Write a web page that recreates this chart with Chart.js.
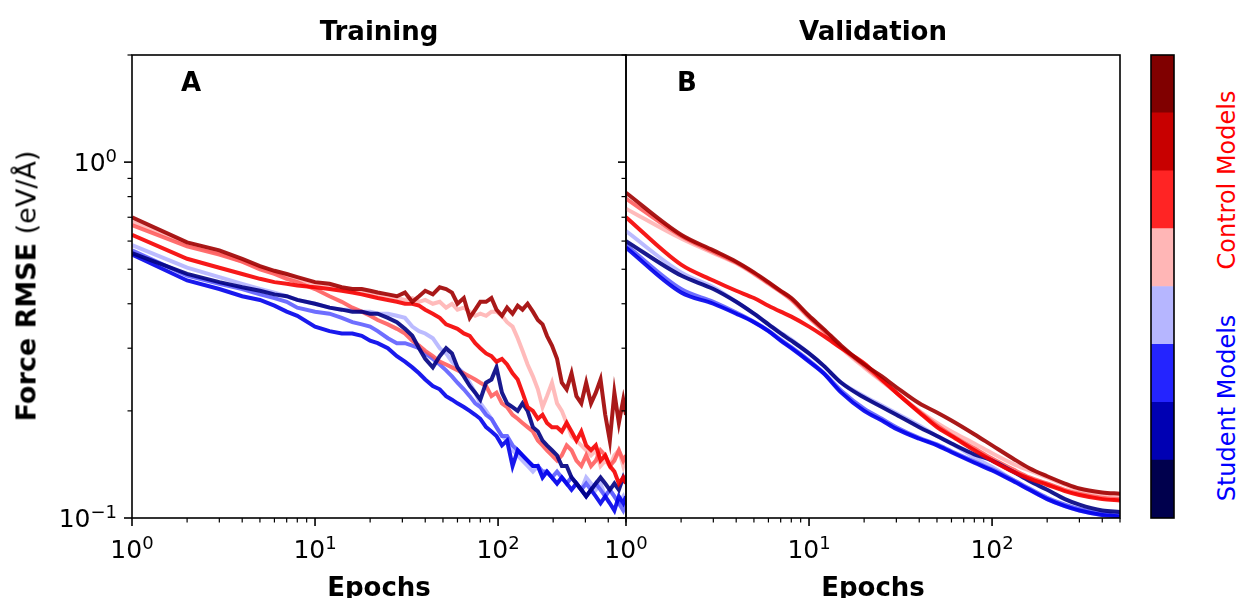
<!DOCTYPE html>
<html>
<head>
<meta charset="utf-8">
<script src="https://cdn.jsdelivr.net/npm/chart.js@4.4.1/dist/chart.umd.min.js"></script>
<style>
  html, body { margin:0; padding:0; background:#fff; }
  #wrap { position:relative; width:1236px; height:598px; overflow:hidden; font-family:"DejaVu Sans", sans-serif; }
  .box { position:absolute; top:0; height:598px; }
  .box canvas { display:block; }
  .txt { position:absolute; line-height:1; white-space:nowrap; color:#000; }
  .b { font-weight:bold; font-size:26px; }
  .rot { font-size:24px; transform:translate(-50%,-50%) rotate(-90deg); }
</style>
</head>
<body>
<div id="wrap">
  <div class="box" style="left:0;width:640px"><canvas id="trainChart" width="640" height="598"></canvas></div>
  <div class="box" style="left:586px;width:550px"><canvas id="validChart" width="550" height="598"></canvas></div>
  <div class="box" style="left:1140px;width:50px"><canvas id="cbarChart" width="50" height="598"></canvas></div>

  <div class="txt b" style="left:379px;top:18px;transform:translateX(-50%)">Training</div>
  <div class="txt b" style="left:873px;top:18px;transform:translateX(-50%)">Validation</div>
  <div class="txt b" style="left:181px;top:69px">A</div>
  <div class="txt b" style="left:677px;top:69px">B</div>
  <div class="txt b" style="left:379px;top:574px;transform:translateX(-50%)">Epochs</div>
  <div class="txt b" style="left:873px;top:574px;transform:translateX(-50%)">Epochs</div>
  <div class="txt rot" style="left:26px;top:286px;font-size:27px"><b>Force RMSE</b> (eV/Å)</div>
  <div class="txt rot" style="left:1227px;top:180px;color:#ff0000">Control Models</div>
  <div class="txt rot" style="left:1227px;top:408px;color:#0000ff">Student Models</div>
</div>
<script>
// epochs
const trainEpochs = [1,2,3,4,5,6,7,8,10,12,14,16,18,20,22,25,28,31,34,37,40,44,48,52,56,60,65,70,75,80,
  86,92,98,105,112,120,128,136,145,155,165,175,185,197,210,223,237,252,268,285,303,322,342,363,385,408,432,457,483,500];
const validEpochs = [1,2,3,4,5,6,7,8,10,12,15,20,25,30,40,50,60,80,100,130,160,200,250,300,400,500];

// training force RMSE, control models
const trainDarkRed = [0.70,0.595,0.565,0.535,0.51,0.495,0.485,0.475,0.46,0.455,
  0.445,0.44,0.44,0.435,0.43,0.425,0.42,0.43,0.405,0.42,
  0.435,0.425,0.445,0.44,0.43,0.40,0.415,0.365,0.385,0.405,
  0.405,0.415,0.385,0.37,0.39,0.375,0.395,0.385,0.40,0.38,
  0.36,0.35,0.325,0.305,0.28,0.24,0.23,0.255,0.22,0.21,
  0.24,0.21,0.225,0.245,0.195,0.165,0.225,0.185,0.215,0.195];
const trainPink = [0.68,0.59,0.555,0.525,0.505,0.49,0.48,0.47,0.455,0.445,
  0.44,0.435,0.43,0.425,0.42,0.42,0.415,0.41,0.415,0.405,
  0.41,0.40,0.405,0.39,0.40,0.385,0.39,0.38,0.37,0.375,
  0.37,0.38,0.38,0.37,0.355,0.345,0.32,0.295,0.27,0.25,
  0.23,0.205,0.22,0.24,0.21,0.2,0.185,0.17,0.165,0.16,
  0.155,0.15,0.155,0.14,0.145,0.14,0.15,0.155,0.14,0.15];
const trainRed = [0.625,0.535,0.505,0.485,0.47,0.46,0.455,0.45,0.445,0.44,
  0.435,0.43,0.425,0.42,0.415,0.41,0.405,0.40,0.40,0.395,
  0.385,0.375,0.365,0.35,0.345,0.34,0.33,0.325,0.31,0.30,
  0.29,0.285,0.275,0.28,0.27,0.255,0.245,0.225,0.205,0.2,
  0.19,0.195,0.185,0.18,0.18,0.175,0.185,0.175,0.165,0.175,
  0.16,0.155,0.16,0.145,0.15,0.14,0.135,0.125,0.13,0.125];
const trainSalmon = [0.665,0.58,0.55,0.525,0.50,0.485,0.47,0.46,0.44,0.42,
  0.405,0.39,0.38,0.37,0.36,0.35,0.34,0.33,0.315,0.305,
  0.295,0.285,0.275,0.27,0.265,0.26,0.255,0.25,0.245,0.24,
  0.235,0.22,0.225,0.21,0.205,0.195,0.19,0.185,0.18,0.175,
  0.165,0.16,0.155,0.15,0.145,0.15,0.16,0.155,0.145,0.14,
  0.15,0.14,0.145,0.155,0.15,0.14,0.145,0.155,0.145,0.15];

// training force RMSE, student models
const trainNavy = [0.555,0.485,0.46,0.445,0.435,0.425,0.42,0.41,0.40,0.39,
  0.385,0.38,0.38,0.375,0.375,0.365,0.355,0.34,0.325,0.30,
  0.28,0.265,0.285,0.30,0.29,0.265,0.25,0.235,0.225,0.215,
  0.24,0.245,0.265,0.225,0.21,0.205,0.20,0.21,0.20,0.18,
  0.175,0.165,0.16,0.155,0.15,0.14,0.14,0.13,0.125,0.12,
  0.115,0.12,0.125,0.13,0.125,0.12,0.125,0.12,0.13,0.125];
const trainBlue = [0.55,0.465,0.44,0.42,0.41,0.395,0.38,0.37,0.345,0.335,
  0.33,0.33,0.325,0.315,0.31,0.30,0.285,0.275,0.265,0.255,
  0.245,0.235,0.23,0.22,0.215,0.21,0.205,0.20,0.195,0.19,
  0.18,0.175,0.17,0.16,0.165,0.14,0.155,0.15,0.145,0.14,
  0.14,0.13,0.135,0.13,0.125,0.13,0.125,0.12,0.125,0.12,
  0.115,0.12,0.115,0.11,0.115,0.11,0.105,0.115,0.11,0.115];
const trainMidBlue = [0.565,0.48,0.455,0.44,0.425,0.415,0.405,0.39,0.38,0.375,
  0.365,0.355,0.35,0.345,0.335,0.32,0.31,0.31,0.305,0.30,
  0.29,0.28,0.27,0.26,0.25,0.24,0.23,0.22,0.21,0.205,
  0.195,0.19,0.18,0.17,0.17,0.16,0.155,0.15,0.145,0.14,
  0.14,0.135,0.135,0.13,0.135,0.13,0.125,0.13,0.125,0.12,
  0.125,0.12,0.125,0.12,0.115,0.12,0.115,0.11,0.105,0.11];
const trainLightBlue = [0.585,0.505,0.475,0.455,0.44,0.43,0.42,0.41,0.40,0.39,
  0.385,0.385,0.38,0.38,0.375,0.375,0.37,0.365,0.345,0.335,
  0.33,0.32,0.30,0.29,0.275,0.265,0.255,0.24,0.225,0.21,
  0.20,0.19,0.18,0.17,0.165,0.155,0.15,0.145,0.14,0.135,
  0.14,0.13,0.135,0.13,0.125,0.13,0.125,0.13,0.125,0.12,
  0.13,0.125,0.12,0.125,0.115,0.12,0.115,0.11,0.115,0.11];

// validation force RMSE
const validDarkRed = [0.82,0.625,0.565,0.525,0.49,0.46,0.435,0.415,0.37,0.34,0.305,0.27,0.25,0.233,0.21,0.198,0.188,0.172,0.16,0.147,0.138,0.131,0.125,0.121,0.118,0.117];
const validPink = [0.74,0.61,0.555,0.52,0.485,0.455,0.432,0.41,0.365,0.335,0.3,0.265,0.242,0.225,0.20,0.185,0.175,0.162,0.152,0.142,0.136,0.13,0.124,0.12,0.117,0.116];
const validRed = [0.70,0.515,0.465,0.435,0.415,0.395,0.38,0.368,0.345,0.325,0.30,0.272,0.245,0.225,0.198,0.18,0.17,0.155,0.145,0.135,0.129,0.124,0.119,0.116,0.113,0.112];
const validSalmon = [0.79,0.62,0.56,0.522,0.487,0.457,0.433,0.412,0.367,0.337,0.302,0.268,0.244,0.225,0.199,0.182,0.171,0.157,0.147,0.137,0.13,0.125,0.12,0.117,0.114,0.113];
const validNavy = [0.60,0.48,0.44,0.405,0.375,0.35,0.33,0.315,0.29,0.268,0.24,0.218,0.205,0.195,0.18,0.17,0.162,0.151,0.145,0.135,0.127,0.12,0.113,0.109,0.105,0.104];
const validBlue = [0.575,0.43,0.40,0.375,0.355,0.335,0.315,0.30,0.275,0.255,0.225,0.20,0.188,0.178,0.167,0.16,0.153,0.143,0.136,0.127,0.12,0.113,0.108,0.105,0.102,0.101];
const validMidBlue = [0.585,0.44,0.405,0.378,0.356,0.336,0.317,0.302,0.277,0.256,0.228,0.203,0.19,0.18,0.168,0.161,0.154,0.144,0.137,0.128,0.121,0.114,0.109,0.106,0.103,0.102];
const validLightBlue = [0.64,0.49,0.445,0.405,0.375,0.35,0.332,0.317,0.29,0.268,0.24,0.22,0.207,0.197,0.182,0.17,0.162,0.148,0.139,0.128,0.12,0.113,0.108,0.105,0.102,0.101];

// ticks
const xMajor = [1, 10, 100];
const xMajorLabels = ['10^0', '10^1', '10^2'];
const xMinor = [2,3,4,5,6,7,8,9,20,30,40,50,60,70,80,90,200,300,400,500];
const yMajor = [0.1, 1];
const yMajorLabels = ['10^\u22121', '10^0'];
const yMinor = [0.2,0.3,0.4,0.5,0.6,0.7,0.8,0.9,2];

// colour bar, bottom to top
const cbarColors = ['#00004d','#0000b3','#2424ff','#b6b6ff','#ffb6b6','#ff2424','#c80000','#800000'];
const cbarBands = [1,1,1,1,1,1,1,1];

const colors = {
  darkRed: 'rgba(160,0,0,0.9)',
  red: 'rgba(245,0,0,0.9)',
  salmon: 'rgba(255,85,85,0.85)',
  pink: 'rgba(255,175,175,0.85)',
  navy: 'rgba(0,0,130,0.9)',
  blue: 'rgba(0,0,235,0.9)',
  midBlue: 'rgba(85,85,255,0.85)',
  lightBlue: 'rgba(175,175,255,0.85)'
};

const FONT = '"DejaVu Sans", sans-serif';
Chart.defaults.font.family = FONT;
Chart.defaults.color = '#000';

// "10" with a raised exponent
function powLabel(ctx, label, x, y, align) {
  const [base, exp] = label.split('^');
  ctx.font = '25px ' + FONT;
  const w1 = ctx.measureText(base).width;
  ctx.font = '18px ' + FONT;
  const w2 = ctx.measureText(exp).width;
  const x0 = align === 'right' ? x - w1 - w2 : x - (w1 + w2) / 2;
  ctx.textAlign = 'left';
  ctx.textBaseline = 'alphabetic';
  ctx.fillStyle = '#000';
  ctx.font = '25px ' + FONT;
  ctx.fillText(base, x0, y);
  ctx.font = '18px ' + FONT;
  ctx.fillText(exp, x0 + w1, y - 9);
}

// frame, outward tick marks and tick labels, all placed through the scales
const axisFrame = {
  id: 'axisFrame',
  afterDraw(chart, args, o) {
    const {ctx, chartArea: a} = chart;
    ctx.save();
    ctx.strokeStyle = '#000';
    if (o.ticks) {
      const sx = chart.scales.x, sy = chart.scales.y;
      const tickX = (vals, len, w) => {
        ctx.lineWidth = w;
        vals.forEach(v => {
          if (v < sx.min || v > sx.max) return;
          const p = sx.getPixelForValue(v);
          ctx.beginPath(); ctx.moveTo(p, a.bottom); ctx.lineTo(p, a.bottom + len); ctx.stroke();
        });
      };
      const tickY = (vals, len, w) => {
        ctx.lineWidth = w;
        vals.forEach(v => {
          if (v < sy.min || v > sy.max) return;
          const p = sy.getPixelForValue(v);
          ctx.beginPath(); ctx.moveTo(a.left, p); ctx.lineTo(a.left - len, p); ctx.stroke();
        });
      };
      tickX(xMinor, 4.5, 1.2);
      tickX(xMajor, 8, 1.6);
      tickY(yMinor, 4.5, 1.2);
      tickY(yMajor, 8, 1.6);
      xMajor.forEach((v, i) => powLabel(ctx, xMajorLabels[i], sx.getPixelForValue(v), a.bottom + 40, 'center'));
      if (o.yLabels) {
        yMajor.forEach((v, i) => powLabel(ctx, yMajorLabels[i], a.left - 15, sy.getPixelForValue(v) + 9, 'right'));
      }
    }
    ctx.lineWidth = 1.6;
    ctx.strokeRect(a.left, a.top, a.right - a.left, a.bottom - a.top);
    ctx.restore();
  }
};

function line(epochs, vals, color, smooth) {
  return {
    data: epochs.map((e, i) => ({x: e, y: vals[i]})),
    borderColor: color,
    borderWidth: 4,
    pointRadius: 0,
    fill: false,
    tension: 0,
    cubicInterpolationMode: smooth ? 'monotone' : 'default'
  };
}

function panel(id, datasets, yLabels, yWidth, padRight) {
  return new Chart(document.getElementById(id), {
    type: 'line',
    data: {datasets},
    options: {
      responsive: false,
      animation: false,
      layout: {padding: {top: 55, right: padRight, bottom: 0, left: 0}},
      plugins: {legend: {display: false}, tooltip: {enabled: false}, axisFrame: {ticks: true, yLabels}},
      scales: {
        x: {
          type: 'logarithmic', min: 1, max: 500,
          grid: {display: false}, border: {display: false},
          ticks: {display: false},
          afterFit: s => { s.height = 80; }
        },
        y: {
          type: 'logarithmic', min: 0.1, max: 2,
          grid: {display: false}, border: {display: false},
          ticks: {display: false},
          afterFit: s => { s.width = yWidth; }
        }
      }
    },
    plugins: [axisFrame]
  });
}

panel('trainChart', [
  line(trainEpochs, trainDarkRed, colors.darkRed),
  line(trainEpochs, trainRed, colors.red),
  line(trainEpochs, trainNavy, colors.navy),
  line(trainEpochs, trainBlue, colors.blue),
  line(trainEpochs, trainSalmon, colors.salmon),
  line(trainEpochs, trainPink, colors.pink),
  line(trainEpochs, trainMidBlue, colors.midBlue),
  line(trainEpochs, trainLightBlue, colors.lightBlue)
], true, 132, 14);

panel('validChart', [
  line(validEpochs, validDarkRed, colors.darkRed, true),
  line(validEpochs, validRed, colors.red, true),
  line(validEpochs, validNavy, colors.navy, true),
  line(validEpochs, validBlue, colors.blue, true),
  line(validEpochs, validSalmon, colors.salmon, true),
  line(validEpochs, validPink, colors.pink, true),
  line(validEpochs, validMidBlue, colors.midBlue, true),
  line(validEpochs, validLightBlue, colors.lightBlue, true)
], false, 40, 16);

new Chart(document.getElementById('cbarChart'), {
  type: 'bar',
  data: {
    labels: [''],
    datasets: cbarColors.map((c, i) => ({
      data: [cbarBands[i]], backgroundColor: c, borderWidth: 0,
      barPercentage: 1, categoryPercentage: 1
    }))
  },
  options: {
    responsive: false,
    animation: false,
    layout: {padding: {left: 11, right: 16, top: 55, bottom: 80}},
    plugins: {legend: {display: false}, tooltip: {enabled: false}, axisFrame: {ticks: false}},
    scales: {
      x: {display: false, stacked: true},
      y: {display: false, stacked: true, min: 0, max: 8}
    }
  },
  plugins: [axisFrame]
});
</script>
</body>
</html>
